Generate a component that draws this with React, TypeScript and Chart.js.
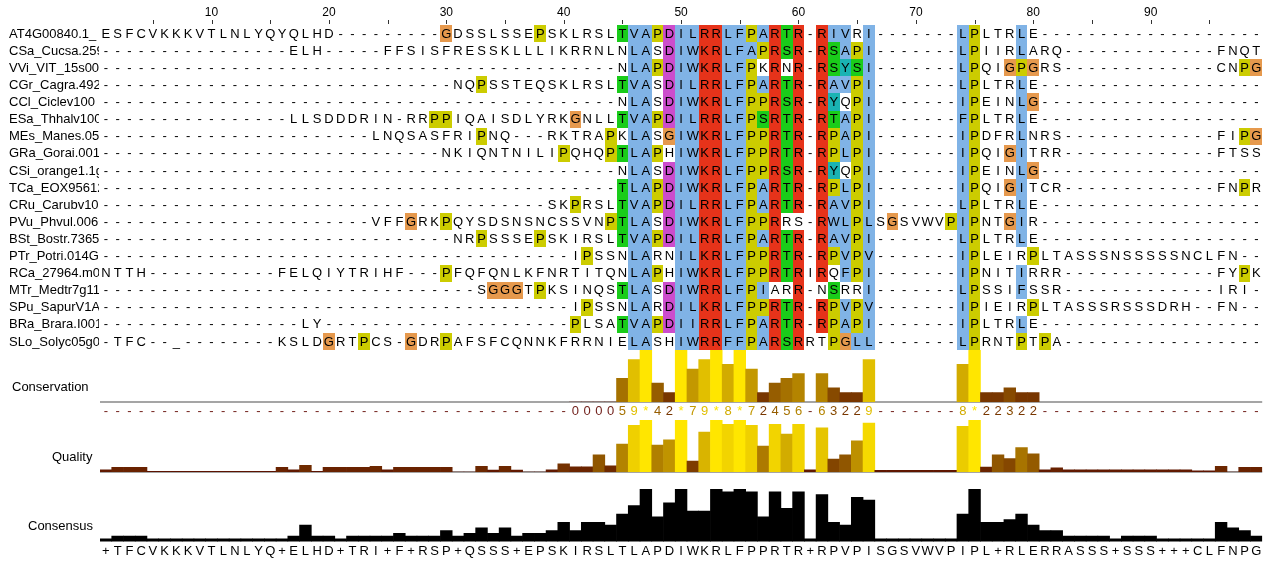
import React, { useEffect, useRef } from 'react';
import { Chart, registerables } from 'chart.js';

Chart.register(...registerables);

const gap = (n: number) => '-'.repeat(n);

const seqNames: string[] = [
  'AT4G00840.1_', 'CSa_Cucsa.259450', 'VVi_VIT_15s0046', 'CGr_Cagra.4922s', 'CCl_Ciclev100',
  'ESa_Thhalv10014', 'MEs_Manes.05G1', 'GRa_Gorai.001G', 'CSi_orange1.1g0', 'TCa_EOX95612',
  'CRu_Carubv10001', 'PVu_Phvul.006G', 'BSt_Bostr.7365s', 'PTr_Potri.014G', 'RCa_27964.m0001',
  'MTr_Medtr7g1128', 'SPu_SapurV1A.01', 'BRa_Brara.I0012', 'SLo_Solyc05g05',
];

const sequences: string[] = [
  ['ESFCVKKKVTLNLYQYQLHD', gap(9), 'GDSSLSSEPSKLRSL', 'TVAPDILRRLFPARTR-RIVRI', gap(7), 'LPLTRLE', gap(19)].join(''),
  [gap(16), 'ELH', gap(5), 'FFSISFRESSKLLLIKRRNLN', 'LASDIWKRLFAPRSR-RSAPI', gap(7), 'LPIIRLARQ', gap(13), 'FNQT'].join(''),
  [gap(44), 'NLAPDIWKRLFPKRNR-RSYSI', gap(7), 'LPQIGPGRS', gap(13), 'CNPG'].join(''),
  [gap(30), 'NQPSSTEQSKLRSL', 'TVASDILRRLFPARTR-RAVPI', gap(7), 'LPLTRLE', gap(19)].join(''),
  [gap(44), 'NLASDIWKRLFPPRSR-RYQPI', gap(7), 'IPEINLG', gap(19)].join(''),
  [gap(16), 'LLSDDDRIN-RR', 'PPIQAISDLYRKGNLL', 'TVAPDILRRLFPSRTR-RTAPI', gap(7), 'FPLTRLE', gap(19)].join(''),
  [gap(23), 'LNQSASFRIPNQ---RKTRAP', 'KLASGIWKRLFPPRTR-RPAPI', gap(7), 'IPDFRLNRS', gap(13), 'FIPG'].join(''),
  [gap(29), 'NKIQNTNILIPQHQP', 'TLAPHIWKRLFPPRTR-RPLPI', gap(7), 'IPQIGITRR', gap(13), 'FTSS'].join(''),
  [gap(44), 'NLASDIWKRLFPPRSR-RYQPI', gap(7), 'IPEINLG', gap(19)].join(''),
  [gap(44), 'TLAPDIWKRLFPARTR-RPLPI', gap(7), 'IPQIGITCR', gap(13), 'FNPR'].join(''),
  [gap(38), 'SKPRSL', 'TVAPDILRRLFPARTR-RAVPI', gap(7), 'LPLTRLE', gap(19)].join(''),
  [gap(23), 'VFFGRKPQYSDSNSNCSSVNP', 'TLASDIWKRLFPPRRS-RWLPL', 'SGSVWVP', 'IPNTGIR', gap(19)].join(''),
  [gap(30), 'NRPSSSEPSKIRSL', 'TVAPDILRRLFPARTR-RAVPI', gap(7), 'LPLTRLE', gap(19)].join(''),
  [gap(40), 'IPSS', 'NLARNILKRLFPPRTR-RPVPV', gap(7), 'IPLEIRPLTASSSNSSSSSNCLFN', gap(2)].join(''),
  ['NTTH', gap(11), 'FELQIYTRIHF', gap(3), 'PFQFQNLKFNRTITQ', 'NLAPHIWKRLFPPRTRIRQFPI', gap(7), 'IPNITIRRR', gap(13), 'FYPK'].join(''),
  [gap(32), 'SGGGTPKSINQS', 'TLASDIWRRLFPIARR-NSRRI', gap(7), 'LPSSIFSSR', gap(13), 'IRI-'].join(''),
  [gap(40), 'IPSS', 'NLARDILKRLFPPRTR-RPVPV', gap(7), 'IPIEIRPLTASSSRSSSDRH--FN', gap(2)].join(''),
  [gap(17), 'LY', gap(21), 'PLSA', 'TVAPDIIRRLFPARTR-RPAPI', gap(7), 'IPLTRLE', gap(19)].join(''),
  ['-TFC--_', gap(8), 'KSLDGRTPCS-GD', 'RPAFSFCQNNKFRRNI', 'ELASHIWRRFFPARSRRTPGLL', gap(7), 'LPRNTPTPA', gap(17)].join(''),
];

const columnCount = 99;
const columnLabels: string[] = Array.from({ length: columnCount }, (_, i) => String(i + 1));
const rulerLabels: number[] = [10, 20, 30, 40, 50, 60, 70, 80, 90];
const rulerTicks: number[] = [5, 10, 15, 20, 25, 30, 35, 40, 45, 50, 55, 60, 65, 70, 75, 80, 85, 90, 95];

// Conservation score per column (null = gap '-', 10 = '+', 11 = '*')
const conservation: (number | null)[] = [
  null, null, null, null, null, null, null, null, null, null,
  null, null, null, null, null, null, null, null, null, null,
  null, null, null, null, null, null, null, null, null, null,
  null, null, null, null, null, null, null, null, null, null,
  0, 0, 0, 0, 5, 9, 11, 4, 2, 11,
  7, 9, 11, 8, 11, 7, 2, 4, 5, 6,
  null, 6, 3, 2, 2, 9, null, null, null, null,
  null, null, null, 8, 11, 2, 2, 3, 2, 2,
  null, null, null, null, null, null, null, null, null, null,
  null, null, null, null, null, null, null, null, null,
];

// Alignment quality per column (percent of maximum)
const quality: number[] = [
  4.5, 9, 9, 9, 1.5, 1.5, 1.5, 1.5, 1.5, 1.5,
  1.5, 1.5, 1.5, 1.5, 1.5, 9, 4.5, 13, 1.5, 9,
  9, 9, 9, 11, 4.5, 9, 9, 9, 9, 9,
  0, 0, 11, 4, 11, 4, 0, 0, 4.5, 16,
  10, 10, 33, 12, 54, 90, 100, 52, 62, 100,
  21, 77, 100, 92, 100, 90, 50, 92, 73, 92,
  4.5, 85, 25, 33, 60, 94, 3.2, 3.2, 3.2, 3.2,
  3.2, 3.2, 3.2, 88, 100, 9.6, 33, 26, 47, 35,
  4.5, 8.3, 4.5, 4.5, 4.5, 4.5, 4.5, 4.5, 4.5, 4.5,
  4.5, 4.5, 4.5, 2.3, 2.3, 11, 0, 9, 9,
];

// Consensus: percentage of sequences sharing the modal residue
const consensusPct: number[] = [
  5.3, 10.5, 10.5, 10.5, 5.3, 5.3, 5.3, 5.3, 5.3, 5.3,
  5.3, 5.3, 5.3, 5.3, 5.3, 5.3, 10.5, 31.6, 10.5, 10.5,
  5.3, 10.5, 10.5, 10.5, 10.5, 15.8, 10.5, 10.5, 10.5, 21.1,
  10.5, 15.8, 26.3, 15.8, 26.3, 10.5, 15.8, 15.8, 21.1, 36.8,
  21.1, 36.8, 36.8, 31.6, 52.6, 68.4, 100, 47.4, 73.7, 100,
  57.9, 57.9, 100, 94.7, 100, 94.7, 47.4, 94.7, 63.2, 94.7,
  5.3, 89.5, 36.8, 31.6, 84.2, 78.9, 5.3, 5.3, 5.3, 5.3,
  5.3, 5.3, 5.3, 52.6, 100, 36.8, 36.8, 42.1, 52.6, 31.6,
  21.1, 21.1, 10.5, 10.5, 10.5, 10.5, 5.3, 10.5, 10.5, 10.5,
  5.3, 5.3, 5.3, 5.3, 5.3, 36.8, 26.3, 21.1, 10.5,
];

const consensusSeq =
  '+TFCVKKKVTLNLYQ+ELHD+TRI+F+RSP+QSSS+EPSKIRSLTLAPDIWKRLFPPRTR+RPVPISGSVWVPIPL+RLERRASSS+SSS+++CLFNPG';

const annotationLabels = ['Conservation', 'Quality', 'Consensus'];

// Clustal colours (Jalview)
const BLUE = 'rgb(128,179,230)';
const RED = 'rgb(230,51,26)';
const GREEN = 'rgb(26,204,26)';
const MAGENTA = 'rgb(204,77,204)';
const CYAN = 'rgb(26,179,179)';
const ORANGE = 'rgb(230,153,77)';
const YELLOW = 'rgb(204,204,0)';

const HYDRO = 'AILMFWVC';
const blueCols = [46, 47, 50, 51, 54, 55, 56, 57, 63, 64, 65, 66, 74, 79];
const greenCols = [45, 57, 59, 63, 65];
const redCols = [52, 53, 58, 60, 62];
const magentaCols = [49];
const cyanCols = [63, 64];

function residueColour(ch: string, col: number): string | null {
  if (ch === 'G') return ORANGE;
  if (ch === 'P') return YELLOW;
  if (blueCols.includes(col) && HYDRO.includes(ch)) return BLUE;
  if (greenCols.includes(col) && (ch === 'S' || ch === 'T')) return GREEN;
  if (redCols.includes(col) && (ch === 'K' || ch === 'R')) return RED;
  if (magentaCols.includes(col) && (ch === 'D' || ch === 'E')) return MAGENTA;
  if (cyanCols.includes(col) && (ch === 'Y' || ch === 'H')) return CYAN;
  return null;
}

function gradient(v: number): string {
  const t = Math.max(0, Math.min(11, v));
  return `rgb(${Math.round(90 + 15 * t)},${Math.round(15 + 19.5 * t)},0)`;
}
const LOW_TEXT = 'rgb(115,35,30)';

const FONT = '"Liberation Sans", Arial, sans-serif';

const alignmentPlugin = {
  id: 'alignmentPanel',
  beforeDatasetsDraw(chart: any) {
    const { ctx, scales } = chart;
    const x = scales.x;
    const yA = scales.yAln;
    const half = (x.getPixelForValue(1) - x.getPixelForValue(0)) / 2;
    ctx.save();
    sequences.forEach((seq, r) => {
      const top = Math.round(yA.getPixelForValue(r + 0.5));
      const bottom = Math.round(yA.getPixelForValue(r + 1.5));
      for (let c = 0; c < seq.length; c++) {
        const colour = residueColour(seq[c], c + 1);
        if (!colour) continue;
        const cx = x.getPixelForValue(c);
        const l = Math.round(cx - half);
        const rr = Math.round(cx + half);
        ctx.fillStyle = colour;
        ctx.fillRect(l, top, rr - l, bottom - top);
      }
    });
    // baselines
    ctx.strokeStyle = 'rgb(165,165,165)';
    ctx.lineWidth = 2;
    [scales.yCons, scales.yQual].forEach((s: any) => {
      const y = s.getPixelForValue(0);
      ctx.beginPath();
      ctx.moveTo(x.left, y);
      ctx.lineTo(x.right, y);
      ctx.stroke();
    });
    ctx.restore();
  },
  afterDatasetsDraw(chart: any) {
    const { ctx, scales } = chart;
    const x = scales.x;
    const yA = scales.yAln;
    ctx.save();
    ctx.textBaseline = 'middle';
    ctx.textAlign = 'center';
    ctx.fillStyle = '#000';
    ctx.font = `13px ${FONT}`;
    // residues
    sequences.forEach((seq, r) => {
      const cy = yA.getPixelForValue(r + 1) + 0.5;
      for (let c = 0; c < seq.length; c++) {
        ctx.fillText(seq[c], x.getPixelForValue(c), cy);
      }
    });
    // names
    ctx.save();
    ctx.beginPath();
    ctx.rect(0, 0, x.left - 1, chart.height);
    ctx.clip();
    ctx.textAlign = 'left';
    seqNames.forEach((name, r) => {
      ctx.fillText(name, 9, yA.getPixelForValue(r + 1) + 0.5);
    });
    ctx.restore();
    // ruler
    ctx.strokeStyle = '#333';
    ctx.lineWidth = 1;
    rulerTicks.forEach((t) => {
      const px = Math.round(x.getPixelForValue(t - 1)) + 0.5;
      ctx.beginPath();
      ctx.moveTo(px, yA.top - 5);
      ctx.lineTo(px, yA.top - 1);
      ctx.stroke();
    });
    ctx.font = `12px ${FONT}`;
    rulerLabels.forEach((t) => {
      ctx.fillText(String(t), x.getPixelForValue(t - 1), yA.top - 12);
    });
    // conservation numbers
    ctx.font = `13px ${FONT}`;
    const sp1 = scales.ySp1;
    const numY = (sp1.top + sp1.bottom) / 2;
    conservation.forEach((v, c) => {
      let ch = '-';
      let colour = LOW_TEXT;
      if (v !== null) {
        ch = v === 11 ? '*' : v === 10 ? '+' : String(v);
        colour = v <= 0 ? LOW_TEXT : gradient(v);
      }
      ctx.fillStyle = colour;
      ctx.fillText(ch, x.getPixelForValue(c), numY);
    });
    // annotation labels
    ctx.fillStyle = '#000';
    ctx.textAlign = 'left';
    const bands = [scales.yCons, scales.yQual, scales.yCns];
    const labelX = [12, 52, 28];
    bands.forEach((s: any, i: number) => {
      ctx.fillText(annotationLabels[i], labelX[i], s.bottom - 15);
    });
    // consensus sequence
    ctx.textAlign = 'center';
    const yC = scales.yCns;
    for (let c = 0; c < consensusSeq.length; c++) {
      ctx.fillText(consensusSeq[c], x.getPixelForValue(c), yC.bottom + 10);
    }
    ctx.restore();
  },
};

export default function App() {
  const ref = useRef<HTMLCanvasElement | null>(null);
  useEffect(() => {
    const canvas = ref.current;
    if (!canvas) return;
    const barCommon = { barPercentage: 1, categoryPercentage: 1, borderWidth: 0, grouped: false };
    const chart = new Chart(canvas, {
      type: 'bar',
      data: {
        labels: columnLabels,
        datasets: [
          {
            label: 'Conservation',
            data: conservation as any,
            yAxisID: 'yCons',
            backgroundColor: conservation.map((v) => gradient(v ?? 0)),
            ...barCommon,
          },
          {
            label: 'Quality',
            data: quality,
            yAxisID: 'yQual',
            backgroundColor: quality.map((q) => gradient((q / 100) * 11)),
            ...barCommon,
          },
          {
            label: 'Consensus',
            data: consensusPct,
            yAxisID: 'yCns',
            backgroundColor: '#000',
            ...barCommon,
          },
        ],
      },
      options: {
        responsive: false,
        animation: false,
        events: [],
        layout: { padding: { left: 100, right: 10.8, top: 25, bottom: 20.4 } },
        plugins: { legend: { display: false }, tooltip: { enabled: false } },
        scales: {
          x: { type: 'category', display: false, offset: true, grid: { display: false } },
          yAln: { type: 'linear', display: false, min: 0.5, max: 19.5, reverse: true, stack: 'main', stackWeight: 325, weight: 6 } as any,
          yCons: { type: 'linear', display: false, min: 0, max: 11, stack: 'main', stackWeight: 52, weight: 5 } as any,
          ySp1: { type: 'linear', display: false, min: 0, max: 1, stack: 'main', stackWeight: 18, weight: 4 } as any,
          yQual: { type: 'linear', display: false, min: 0, max: 100, stack: 'main', stackWeight: 52, weight: 3 } as any,
          ySp2: { type: 'linear', display: false, min: 0, max: 1, stack: 'main', stackWeight: 17, weight: 2 } as any,
          yCns: { type: 'linear', display: false, min: 0, max: 100, stack: 'main', stackWeight: 52.5, weight: 1 } as any,
        },
      },
      plugins: [alignmentPlugin],
    });
    return () => chart.destroy();
  }, []);
  return (
    <div style={{ position: 'absolute', left: 0, top: 0, width: 1273, height: 562, background: '#fff' }}>
      <canvas ref={ref} width={1273} height={562} style={{ display: 'block', width: 1273, height: 562 }} />
    </div>
  );
}
